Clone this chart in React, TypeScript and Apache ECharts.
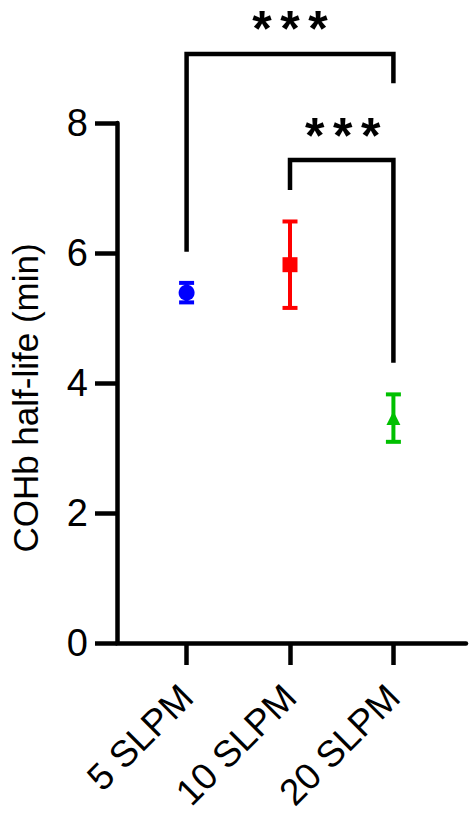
import { useEffect, useRef } from 'react';
import * as echarts from 'echarts';

// groups on the x axis (plotted at 0, 1, 2)
const categories = ['5 SLPM', '10 SLPM', '20 SLPM'];
const means = [5.39, 5.82, 3.46];
const errors = [0.15, 0.665, 0.365];
const colors = ['#0000ff', '#ff0000', '#00c000'];
const symbols = ['circle', 'rect', 'triangle'];
const symbolSizes = [16, 15, 14];

// significance brackets, in data units
const bracketOuter = [[0, 6.02], [0, 9.06], [2, 9.06], [2, 8.61]];
const bracketInner = [[1, 6.97], [1, 7.43], [2, 7.43], [2, 4.31]];
const starMarks = [[1, 9.6], [1.51, 7.95]];

const FONT = 'Arial, "Liberation Sans", sans-serif';
const LW = 4.5;

export default function App() {
  const chartRef = useRef<HTMLDivElement>(null);

  useEffect(() => {
    document.body.style.margin = '0';
    if (!chartRef.current) return;
    const chart = echarts.init(chartRef.current, null, { renderer: 'svg' });

    const bracketSeries = [bracketOuter, bracketInner].map((d, i) => ({
      type: 'line',
      name: 'bracket' + i,
      data: d,
      clip: false,
      symbol: 'none',
      silent: true,
      lineStyle: { color: '#000', width: LW, join: 'miter', cap: 'butt' },
      z: 3
    }));

    chart.setOption({
      animation: false,
      grid: { left: 115, right: 7, top: 123, bottom: 180 },
      xAxis: {
        type: 'value',
        min: -0.673,
        max: 2.702,
        splitLine: { show: false },
        axisLine: { onZero: false, lineStyle: { color: '#000', width: LW } },
        axisTick: { length: 22, customValues: [0, 1, 2], lineStyle: { color: '#000', width: LW } },
        axisLabel: {
          customValues: [0, 1, 2],
          formatter: (v: number) => categories[Math.round(v)] ?? '',
          rotate: 45,
          margin: 48,
          color: '#000',
          fontSize: 37,
          fontFamily: FONT
        }
      },
      yAxis: {
        type: 'value',
        min: 0,
        max: 8,
        interval: 2,
        name: 'COHb half-life (min)',
        nameLocation: 'middle',
        nameGap: 74,
        nameTextStyle: { color: '#000', fontSize: 35, fontFamily: FONT, padding: [0, 30, 0, 0] },
        splitLine: { show: false },
        axisLine: { show: true, onZero: false, lineStyle: { color: '#000', width: LW } },
        axisTick: { show: true, length: 22, lineStyle: { color: '#000', width: LW } },
        axisLabel: { margin: 29, color: '#000', fontSize: 38, fontFamily: FONT }
      },
      series: [
        ...categories.map((c, i) => ({
          type: 'scatter',
          name: c,
          data: [[i, means[i]]],
          symbol: symbols[i],
          symbolSize: symbolSizes[i],
          itemStyle: { color: colors[i], opacity: 1 },
          z: 2
        })),
        {
          type: 'custom',
          name: 'sem',
          data: categories.map((_, i) => [i, means[i] - errors[i], means[i] + errors[i]]),
          renderItem: (_params: any, api: any) => {
            const i = api.value(0);
            const lo = api.coord([i, api.value(1)]);
            const hi = api.coord([i, api.value(2)]);
            const half = 7.5;
            const style = { stroke: colors[i], lineWidth: 4 };
            return {
              type: 'group',
              children: [
                { type: 'line', shape: { x1: lo[0], y1: lo[1], x2: hi[0], y2: hi[1] }, style },
                { type: 'line', shape: { x1: lo[0] - half, y1: lo[1], x2: lo[0] + half, y2: lo[1] }, style },
                { type: 'line', shape: { x1: hi[0] - half, y1: hi[1], x2: hi[0] + half, y2: hi[1] }, style }
              ]
            };
          },
          z: 4
        },
        ...bracketSeries,
        {
          type: 'scatter',
          name: 'stars',
          data: starMarks,
          clip: false,
          symbolSize: 0,
          silent: true,
          itemStyle: { opacity: 1 },
          label: {
            show: true,
            position: 'inside',
            formatter: '{s|*}{s|*}{s|*}',
            color: '#000',
            textBorderWidth: 0,
            offset: [0, 10],
            rich: {
              s: {
                width: 28,
                align: 'center',
                color: '#000',
                fontSize: 50,
                lineHeight: 28,
                fontWeight: 'bold',
                fontFamily: FONT
              }
            }
          }
        }
      ]
    });

    return () => {
      chart.dispose();
    };
  }, []);

  return <div ref={chartRef} style={{ width: 473, height: 823 }} />;
}
